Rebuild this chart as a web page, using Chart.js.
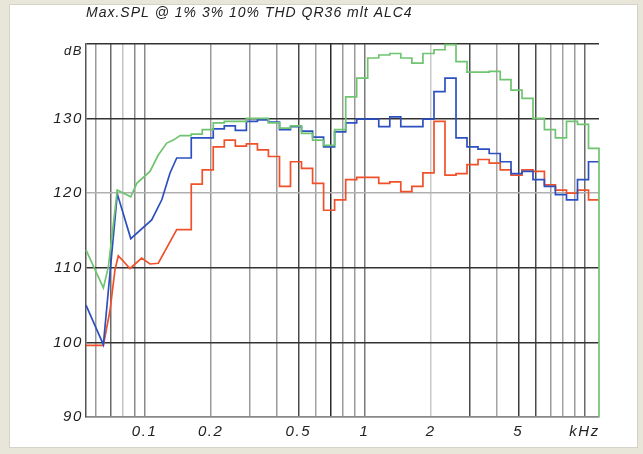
<!DOCTYPE html>
<html>
<head>
<meta charset="utf-8">
<script src="https://cdn.jsdelivr.net/npm/chart.js@4"></script>
<style>
  html, body { margin: 0; padding: 0; background: #e8e5d9; }
  #wrap { position: relative; width: 643px; height: 454px; overflow: hidden; }
  #panel { position: absolute; left: 9px; top: 4px; width: 627px; height: 442px; background: #fff; border: 1px solid #d4d2ca; }
  #chart { position: absolute; left: 0; top: 0; }
</style>
</head>
<body>
<div id="wrap"><div id="panel"></div><canvas id="chart" width="643" height="454"></canvas></div>
<script>
const title = 'Max.SPL @ 1% 3% 10% THD QR36 mlt ALC4'

// x grid in kHz, and what is printed under it
const xTicks = [0.06, 0.07, 0.08, 0.09, 0.1, 0.2, 0.3, 0.4, 0.5, 0.6, 0.7, 0.8, 0.9, 1, 2, 3, 4, 5, 6, 7, 8, 9, 10]
const xLabels = ['', '', '', '', '0.1', '0.2', '', '', '0.5', '', '', '', '', '1', '2', '', '', '5', '', '', '', '', 'kHz']
const yLabels = ['90', '100', '110', '120', '130', ['', 'dB']]

// low end, drawn as a plain polyline (kHz / dB)
const greenLowF = [0.0542, 0.0650, 0.0685, 0.0752, 0.0866, 0.0922, 0.1059, 0.1155, 0.1262, 0.1352]
const greenLow = [112.4, 107.3, 110.1, 120.4, 119.5, 121.3, 122.9, 125.1, 126.7, 127.1]
const blueLowF = [0.0542, 0.0650, 0.0752, 0.0866, 0.1078, 0.1198, 0.1306, 0.1401]
const blueLow = [105.0, 99.7, 119.9, 113.9, 116.4, 119.1, 122.7, 124.7]
const redLowF = [0.0542, 0.0650, 0.0697, 0.0734, 0.0760, 0.0859, 0.0971, 0.1059, 0.1155, 0.1401]
const redLow = [99.6, 99.6, 104.3, 109.7, 111.6, 109.9, 111.3, 110.5, 110.6, 115.1]

// 1/6 octave bands above that, band edges in kHz
const bandEdges = [0.1451, 0.1631, 0.1830, 0.2053, 0.2305, 0.2587, 0.2905, 0.3260, 0.3658, 0.4108,
  0.4609, 0.5172, 0.5808, 0.6517, 0.7312, 0.8213, 0.9216, 1.034, 1.161, 1.303,
  1.462, 1.642, 1.843, 2.070, 2.322, 2.606, 2.924, 3.281, 3.688, 4.139,
  4.634, 5.200, 5.834, 6.573, 7.375, 8.283, 9.294, 10.43, 11.64]

const green10 = [127.7, 127.9, 128.5, 129.4, 129.6, 129.6, 130.0, 130.0, 129.4, 128.7,
  129.0, 128.0, 127.1, 126.4, 128.5, 132.9, 135.4, 138.1, 138.5, 138.7,
  138.1, 137.4, 138.7, 139.2, 139.9, 137.6, 136.2, 136.2, 136.3, 135.2,
  133.8, 132.7, 130.0, 128.5, 127.4, 129.6, 129.2, 126.0]
const greenEnd = 90
const blue3 = [124.7, 127.4, 127.4, 128.6, 129.0, 128.4, 129.6, 129.8, 129.5, 128.5,
  128.9, 128.3, 127.5, 126.2, 128.2, 129.4, 129.9, 129.9, 128.9, 130.2,
  128.9, 128.9, 129.9, 133.6, 135.4, 127.4, 126.2, 125.9, 125.3, 124.2,
  122.6, 122.9, 121.8, 120.9, 119.8, 119.1, 121.8, 124.2]
const red1 = [115.1, 121.2, 123.1, 126.2, 127.1, 126.3, 126.6, 125.8, 124.9, 120.9,
  124.2, 123.3, 121.3, 117.7, 119.1, 121.8, 122.1, 122.1, 121.3, 121.5,
  120.2, 120.9, 122.7, 129.6, 122.4, 122.6, 123.8, 124.5, 124.0, 123.1,
  122.4, 123.1, 122.9, 121.1, 120.4, 120.0, 120.4, 119.1]

// the scan of the grid has lines of uneven darkness
const xGridColors = ['#9a9a9a', '#6a6a6a', '#c4c4c4', '#8a8a8a', '#8a8a8a', '#9a9a9a', '#9a9a9a', '#9a9a9a', '#4a4a4a',
  '#a4a4a4', '#2a2a2a', '#9a9a9a', '#9a9a9a', '#7a7a7a', '#c8c8c8', '#4a4a4a', '#a4a4a4', '#3a3a3a',
  '#4a4a4a', '#9a9a9a', '#a4a4a4', '#9a9a9a', '#6a6a6a']
const yGridColors = ['#888', '#333', '#333', '#b0b0b0', '#333', '#333']

function curve(lowF, low, bands) {
  const pts = lowF.map((f, i) => ({x: f, y: low[i]}))
  bands.forEach((v, i) => {
    pts.push({x: bandEdges[i], y: v})
    pts.push({x: bandEdges[i + 1], y: v})
  })
  return pts
}

const greenPts = curve(greenLowF, greenLow, green10)
greenPts.push({x: bandEdges[bandEdges.length - 1], y: greenEnd})

const font = 'Liberation Sans, Arial, sans-serif'

// text in the original is spaced out wider than a normal font
const spacing = {
  id: 'spacing',
  beforeDraw(chart) { chart.ctx.letterSpacing = '1px' },
  afterDatasetsDraw(chart) { chart.ctx.letterSpacing = '1.6px' },
  afterDraw(chart) { chart.ctx.letterSpacing = '0px' }
}

const line = (data, color) => ({
  data,
  borderColor: color,
  borderWidth: 1.7,
  pointRadius: 0,
  tension: 0,
  fill: false,
  clip: 2
})

new Chart(document.getElementById('chart'), {
  type: 'line',
  data: {
    datasets: [
      line(greenPts, '#6fc46f'),
      line(curve(blueLowF, blueLow, blue3), '#2d50c0'),
      line(curve(redLowF, redLow, red1), '#f0502a')
    ]
  },
  options: {
    responsive: false,
    animation: false,
    devicePixelRatio: 1,
    layout: {padding: {top: 0, right: 44, bottom: 0, left: 0}},
    plugins: {
      legend: {display: false},
      tooltip: {enabled: false},
      title: {
        display: true,
        text: title,
        align: 'start',
        fullSize: false,
        color: '#222',
        font: {family: font, size: 14, style: 'italic', weight: 'normal'},
        padding: {top: 5, bottom: 22}
      }
    },
    scales: {
      x: {
        type: 'logarithmic',
        min: 0.0542,
        max: 11.64,
        afterBuildTicks: (scale) => { scale.ticks = xTicks.map(v => ({value: v})) },
        afterFit: (scale) => { scale.height = 37 },
        grid: {
          drawTicks: false,
          lineWidth: 1.5,
          color: (c) => xGridColors[c.index] || '#999'
        },
        border: {display: true, color: '#888', width: 1.5},
        ticks: {
          z: 1,
          autoSkip: false,
          maxRotation: 0,
          minRotation: 0,
          padding: 6,
          color: '#222',
          font: {family: font, size: 15, style: 'italic'},
          callback: (v, i) => xLabels[i]
        }
      },
      y: {
        min: 90,
        max: 140,
        afterFit: (scale) => { scale.width = 86 },
        grid: {
          drawTicks: false,
          lineWidth: 1.5,
          color: (c) => yGridColors[c.index] || '#333'
        },
        border: {display: true, color: '#555', width: 1.5},
        ticks: {
          z: 1,
          stepSize: 10,
          padding: 3,
          color: '#222',
          font: (c) => ({family: font, size: c.index === 5 ? 13 : 15, style: 'italic'}),
          callback: (v, i) => yLabels[i]
        }
      }
    }
  },
  plugins: [spacing]
})
</script>
</body>
</html>
